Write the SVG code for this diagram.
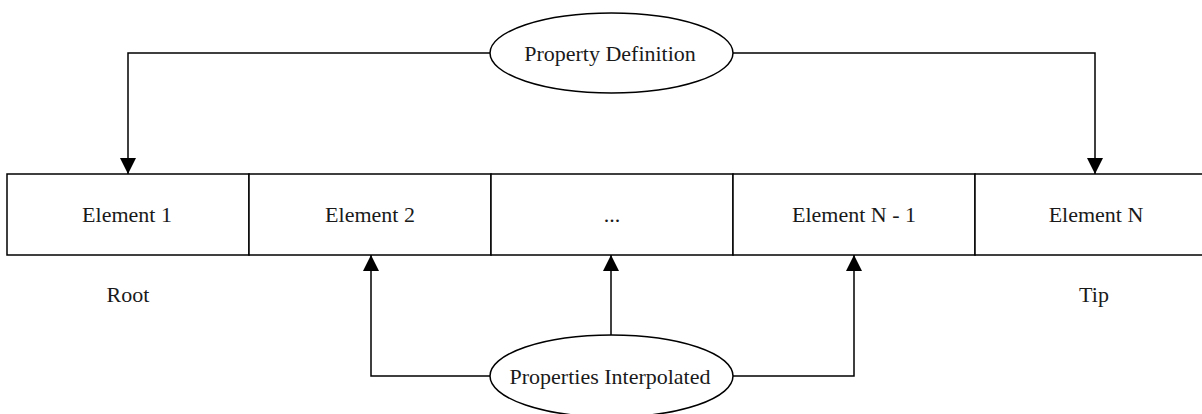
<svg xmlns="http://www.w3.org/2000/svg" width="1202" height="414" viewBox="0 0 1202 414">
  <defs>
    <marker id="arrow" viewBox="0 0 16 18" refX="16" refY="8" markerWidth="16" markerHeight="18" markerUnits="userSpaceOnUse" orient="auto">
      <path d="M0,0 L16,8 L0,16 Z" fill="#000"/>
    </marker>
    <style>
      .box { fill: #fff; stroke: #000; stroke-width: 1.5; }
      .oval { fill: #fff; stroke: #000; stroke-width: 1.5; }
      .wire { fill: none; stroke: #000; stroke-width: 1.5; marker-end: url(#arrow); }
      .label { font-family: "Liberation Serif", "Times New Roman", serif; font-size: 22px; fill: #1a1a1a; text-anchor: middle; }
    </style>
  </defs>
  <rect width="1202" height="414" fill="#fff"/>

  <!-- connectors -->
  <g id="connectors">
    <path class="wire" d="M490,53 H128 V174"/>
    <path class="wire" d="M733,53 H1095 V174"/>
    <path class="wire" d="M490,376 H371 V255"/>
    <path class="wire" d="M611,335 V255"/>
    <path class="wire" d="M733,376 H854 V255"/>
  </g>

  <!-- element strip -->
  <g id="element-1">
    <rect class="box" x="7" y="174" width="242" height="81"/>
    <text class="label" x="127" y="222">Element 1</text>
  </g>
  <g id="element-2">
    <rect class="box" x="249" y="174" width="242" height="81"/>
    <text class="label" x="370" y="222">Element 2</text>
  </g>
  <g id="element-mid">
    <rect class="box" x="491" y="174" width="242" height="81"/>
    <text class="label" x="612" y="222">...</text>
  </g>
  <g id="element-n-1">
    <rect class="box" x="733" y="174" width="242" height="81"/>
    <text class="label" x="854" y="222">Element N - 1</text>
  </g>
  <g id="element-n">
    <rect class="box" x="975" y="174" width="242" height="81"/>
    <text class="label" x="1096" y="222">Element N</text>
  </g>

  <!-- end labels -->
  <g id="root-label">
    <text class="label" x="128" y="302">Root</text>
  </g>
  <g id="tip-label">
    <text class="label" x="1094" y="302">Tip</text>
  </g>

  <!-- property sources -->
  <g id="property-definition">
    <ellipse class="oval" cx="611.5" cy="53" rx="121.5" ry="40"/>
    <text class="label" x="610" y="61">Property Definition</text>
  </g>
  <g id="properties-interpolated">
    <ellipse class="oval" cx="611.5" cy="376" rx="121.5" ry="41"/>
    <text class="label" x="610" y="384">Properties Interpolated</text>
  </g>
</svg>
